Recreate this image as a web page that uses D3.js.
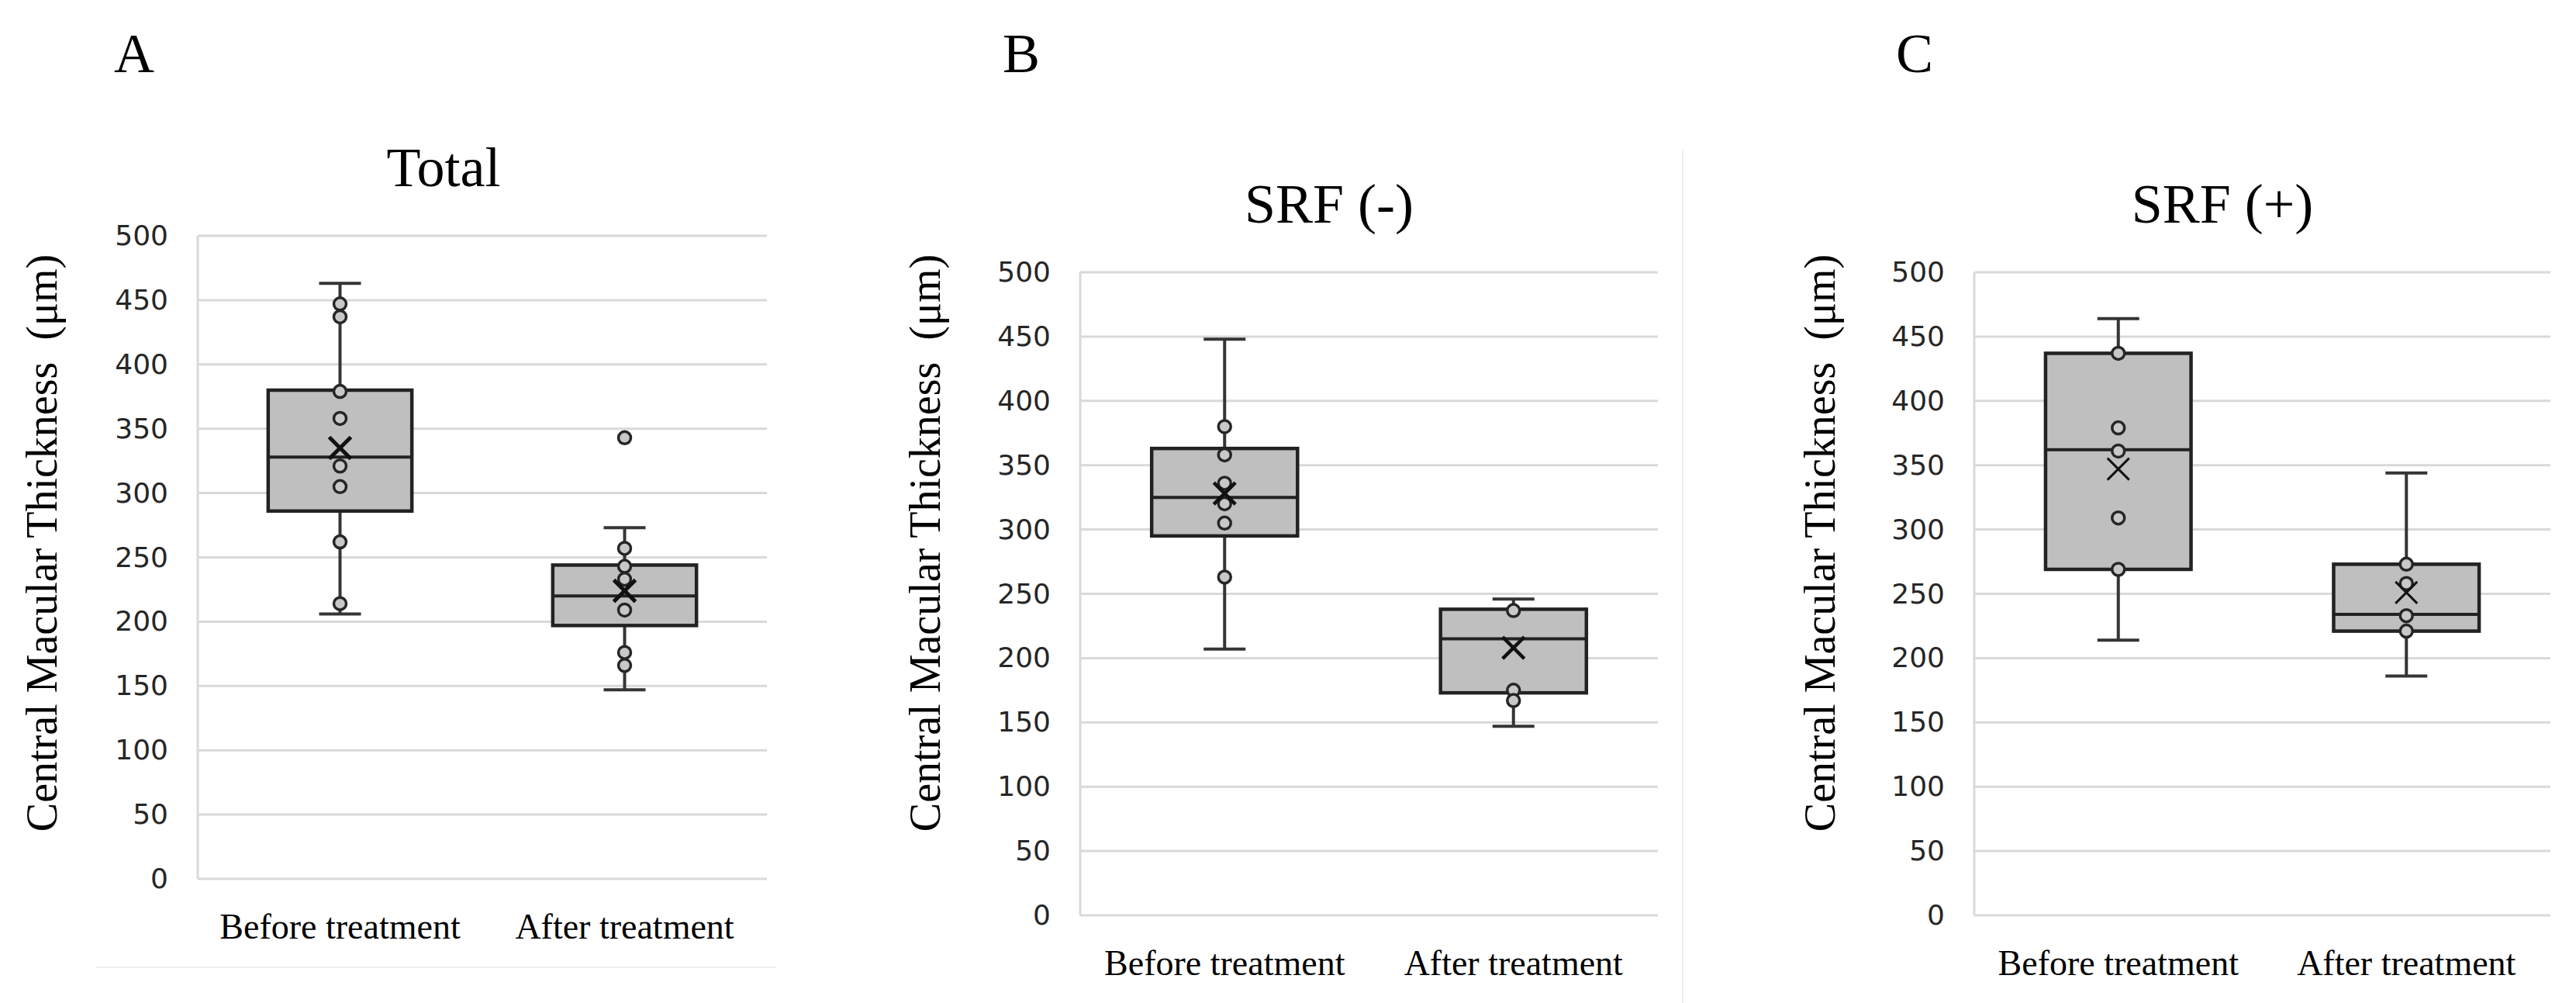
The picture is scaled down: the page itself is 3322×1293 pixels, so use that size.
<!DOCTYPE html>
<html>
<head>
<meta charset="utf-8">
<script src="https://cdn.jsdelivr.net/npm/d3@7"></script>
<style>
  body { margin: 0; background: #ffffff; }
  .serif { font-family: "Liberation Serif", "Times New Roman", serif; fill: #000; }
  .tick text { font-family: "DejaVu Sans", sans-serif; font-size: 36px; fill: #262626; }
</style>
</head>
<body>
<div id="chart"></div>
<script>
// Chart data
var panelLetters = ["A", "B", "C"];
var panelTitles = ["Total", "SRF (-)", "SRF (+)"];
var categories = ["Before treatment", "After treatment"];
var yTicks = [0, 50, 100, 150, 200, 250, 300, 350, 400, 450, 500];

// box statistics per panel, [before, after]
var whiskerLow  = [[206, 147], [207, 147], [214, 186]];
var q1          = [[286, 197], [295, 173], [269, 221]];
var medians     = [[328, 220], [325, 215], [362, 234]];
var q3          = [[380, 244], [363, 238], [437, 273]];
var whiskerHigh = [[463, 273], [448, 246], [464, 344]];
var means       = [[335, 224], [328, 208], [347, 251]];

var innerPoints = [
  [[447, 437, 379, 358, 321, 305, 262, 214], [257, 243, 233, 209, 176, 166]],
  [[380, 358, 336, 320, 305, 263], [237, 175, 167]],
  [[437, 379, 361, 309, 269], [273, 258, 233, 221]]
];
var outliers = [
  [[], [343]],
  [[], []],
  [[], []]
];

// page layout
var svgWidth = 3322;
var svgHeight = 1293;

var panels = [
  {left: 255, right: 989, top: 304, bottom: 1133, titleX: 572, letterX: 147, yTitleX: 73},
  {left: 1393, right: 2138, top: 351, bottom: 1180, titleX: 1714, letterX: 1293, yTitleX: 1212},
  {left: 2546, right: 3289, top: 351, bottom: 1180, titleX: 2866, letterX: 2445, yTitleX: 2366}
];
var meanStroke = [5, 4.5, 3];

var svg = d3.select("#chart")
  .append("svg")
  .attr("width", svgWidth)
  .attr("height", svgHeight);

// faint chart-area borders
svg.append("line")
  .attr("x1", 123).attr("x2", 1000)
  .attr("y1", 1247).attr("y2", 1247)
  .attr("stroke", "#ededed").attr("stroke-width", 2);
svg.append("line")
  .attr("x1", 2170).attr("x2", 2170)
  .attr("y1", 193).attr("y2", 1293)
  .attr("stroke", "#ededed").attr("stroke-width", 2);

panels.forEach(function(p, i) {
  var g = svg.append("g");

  var x = d3.scaleBand()
    .domain(categories)
    .range([p.left, p.right])
    .padding(0);

  var y = d3.scaleLinear()
    .domain([0, 500])
    .range([p.bottom, p.top]);

  // gridlines
  g.selectAll(".grid")
    .data(yTicks)
    .enter()
    .append("line")
    .attr("class", "grid")
    .attr("x1", p.left)
    .attr("x2", p.right)
    .attr("y1", d => y(d))
    .attr("y2", d => y(d))
    .attr("stroke", "#d9d9d9")
    .attr("stroke-width", 3);

  // left axis line
  g.append("line")
    .attr("x1", p.left).attr("x2", p.left)
    .attr("y1", p.top).attr("y2", p.bottom)
    .attr("stroke", "#d9d9d9")
    .attr("stroke-width", 3);

  // y axis labels
  var leftAxis = d3.axisLeft(y)
    .tickValues(yTicks)
    .tickSize(0)
    .tickPadding(38);
  g.append("g")
    .attr("transform", `translate(${p.left}, 0)`)
    .call(leftAxis)
    .call(a => a.select(".domain").remove());

  // category labels
  g.selectAll(".xlab")
    .data(categories)
    .enter()
    .append("text")
    .attr("class", "serif")
    .attr("x", d => x(d) + x.bandwidth() / 2)
    .attr("y", p.bottom + 77)
    .attr("text-anchor", "middle")
    .attr("font-size", 46)
    .text(d => d);

  var boxW = x.bandwidth() * 0.505;
  var capW = 54;

  categories.forEach(function(c, j) {
    var cx = x(c) + x.bandwidth() / 2;

    // whisker
    g.append("line")
      .attr("x1", cx).attr("x2", cx)
      .attr("y1", y(whiskerLow[i][j])).attr("y2", y(whiskerHigh[i][j]))
      .attr("stroke", "#353535").attr("stroke-width", 4);
    [whiskerLow[i][j], whiskerHigh[i][j]].forEach(function(v) {
      g.append("line")
        .attr("x1", cx - capW / 2).attr("x2", cx + capW / 2)
        .attr("y1", y(v)).attr("y2", y(v))
        .attr("stroke", "#353535").attr("stroke-width", 4);
    });

    // box
    g.append("rect")
      .attr("x", cx - boxW / 2)
      .attr("y", y(q3[i][j]))
      .attr("width", boxW)
      .attr("height", y(q1[i][j]) - y(q3[i][j]))
      .attr("fill", "#bfbfbf")
      .attr("stroke", "#222")
      .attr("stroke-width", 4.5);

    // median
    g.append("line")
      .attr("x1", cx - boxW / 2).attr("x2", cx + boxW / 2)
      .attr("y1", y(medians[i][j])).attr("y2", y(medians[i][j]))
      .attr("stroke", "#222").attr("stroke-width", 4);

    // points
    g.selectAll(null)
      .data(innerPoints[i][j].concat(outliers[i][j]))
      .enter()
      .append("circle")
      .attr("cx", cx)
      .attr("cy", d => y(d))
      .attr("r", 8)
      .attr("fill", "#c8c8c8")
      .attr("stroke", "#262626")
      .attr("stroke-width", 3.5);

    // mean marker
    var my = y(means[i][j]);
    var s = 14;
    g.append("path")
      .attr("d", `M${cx - s},${my - s}L${cx + s},${my + s}M${cx - s},${my + s}L${cx + s},${my - s}`)
      .attr("stroke", "#111")
      .attr("stroke-width", meanStroke[i])
      .attr("fill", "none");
  });

  // chart title
  g.append("text")
    .attr("class", "serif")
    .attr("x", p.titleX)
    .attr("y", p.top - 64)
    .attr("text-anchor", "middle")
    .attr("font-size", 72)
    .text(panelTitles[i]);

  // panel letter
  g.append("text")
    .attr("class", "serif")
    .attr("x", p.letterX)
    .attr("y", 93)
    .attr("font-size", 72)
    .text(panelLetters[i]);

  // y axis title
  g.append("text")
    .attr("class", "serif")
    .attr("transform", `translate(${p.yTitleX}, 700) rotate(-90)`)
    .attr("text-anchor", "middle")
    .attr("font-size", 56)
    .text("Central Macular Thickness\u00a0 (\u03bcm)");
});
</script>
</body>
</html>
